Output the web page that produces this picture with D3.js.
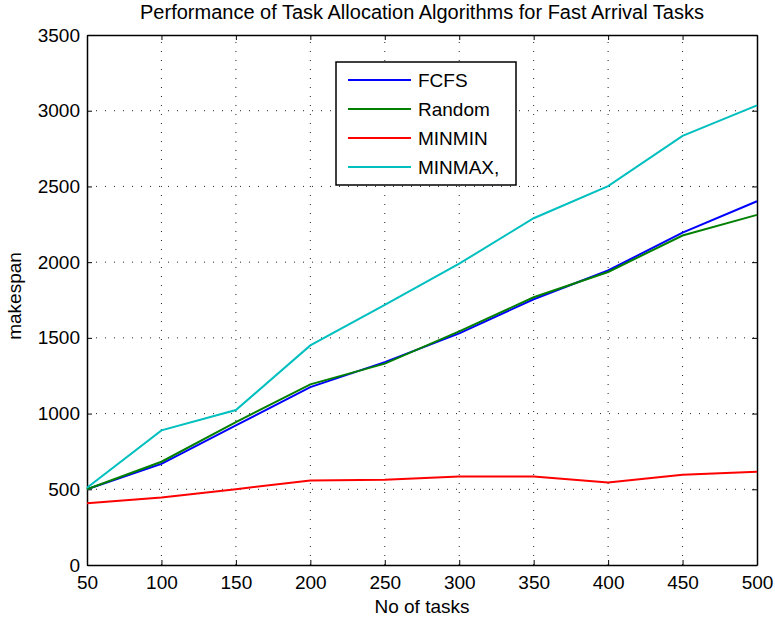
<!DOCTYPE html>
<html lang="en">
<head>
<meta charset="UTF-8">
<title>Performance of Task Allocation Algorithms</title>
<script src="https://d3js.org/d3.v7.min.js"></script>
<style>
    body { margin: 0; background: #fff; }
    text { font-family: 'Liberation Sans', Arial, sans-serif; fill: #000; }
</style>
</head>
<body>
<svg id="chart" width="775" height="617"></svg>
<script>
    // Data
    const tasks = [50, 100, 150, 200, 250, 300, 350, 400, 450, 500];
    const fcfs   = [500, 668, 922, 1175, 1340, 1530, 1755, 1945, 2195, 2402];
    const random = [500, 682, 944, 1193, 1330, 1543, 1768, 1935, 2176, 2312];
    const minmin = [408, 446, 501, 558, 563, 585, 585, 545, 596, 616];
    const minmax = [510, 889, 1023, 1450, 1718, 1990, 2290, 2502, 2834, 3035];
    const seriesNames = ["FCFS", "Random", "MINMIN", "MINMAX,"];
    const seriesColors = ["#0000ff", "#008000", "#ff0000", "#00bfbf"];
    const yTicks = [0, 500, 1000, 1500, 2000, 2500, 3000, 3500];

    const width = 775, height = 617;
    const margin = { left: 87, right: 18, top: 35, bottom: 52 };
    const svg = d3.select("#chart");

    svg.append("rect").attr("width", width).attr("height", height).attr("fill", "white");

    const x = d3.scaleLinear().domain([50, 500]).range([margin.left, width - margin.right]);
    const y = d3.scaleLinear().domain([0, 3500]).range([height - margin.bottom, margin.top]);

    const x0 = x.range()[0], x1 = x.range()[1], y0 = y.range()[0], y1 = y.range()[1];

    // grid lines (dotted)
    const grid = svg.append("g");
    tasks.slice(1, -1).forEach(t => {
        grid.append("line")
            .attr("x1", x(t)).attr("x2", x(t)).attr("y1", y0).attr("y2", y1)
            .attr("stroke", "#222").attr("stroke-width", 1).attr("stroke-dasharray", "1,8");
    });
    yTicks.slice(1, -1).forEach(v => {
        grid.append("line")
            .attr("x1", x0).attr("x2", x1).attr("y1", y(v)).attr("y2", y(v))
            .attr("stroke", "#222").attr("stroke-width", 1).attr("stroke-dasharray", "1,8");
    });

    // axes, ticks pointing inward
    const fmt = d3.format("d");
    const xAxis = svg.append("g").attr("transform", `translate(0,${y0})`)
        .call(d3.axisBottom(x).tickValues(tasks).tickFormat(fmt).tickSizeInner(-5).tickSizeOuter(0).tickPadding(10));
    const xTop = svg.append("g").attr("transform", `translate(0,${y1})`)
        .call(d3.axisTop(x).tickValues(tasks).tickSizeInner(-5).tickSizeOuter(0).tickFormat(""));
    const yAxis = svg.append("g").attr("transform", `translate(${x0},0)`)
        .call(d3.axisLeft(y).tickValues(yTicks).tickFormat(fmt).tickSizeInner(-5).tickSizeOuter(0).tickPadding(7));
    const yRight = svg.append("g").attr("transform", `translate(${x1},0)`)
        .call(d3.axisRight(y).tickValues(yTicks).tickSizeInner(-5).tickSizeOuter(0).tickFormat(""));

    [xAxis, xTop, yAxis, yRight].forEach(g => {
        g.selectAll("path").attr("stroke", "#000").attr("stroke-width", 1.5);
        g.selectAll("line").attr("stroke", "#000");
        g.selectAll("text").style("font-size", "19px").attr("fill", "#000")
            .style("font-family", "'Liberation Sans', Arial, sans-serif");
    });
    xAxis.selectAll("text").attr("dy", "0.75em");

    // lines
    const allSeries = [fcfs, random, minmin, minmax];
    const line = d3.line().x((d, i) => x(tasks[i])).y(d => y(d));
    allSeries.forEach((s, i) => {
        svg.append("path").datum(s)
            .attr("d", line)
            .attr("fill", "none")
            .attr("stroke", seriesColors[i])
            .attr("stroke-width", 2);
    });

    // legend
    const legend = svg.append("g").attr("transform", "translate(336,62)");
    legend.append("rect").attr("width", 180).attr("height", 123)
        .attr("fill", "white").attr("stroke", "#000").attr("stroke-width", 1.5);
    seriesNames.forEach((name, i) => {
        const ly = 18 + i * 29;
        legend.append("line").attr("x1", 12).attr("x2", 75).attr("y1", ly).attr("y2", ly)
            .attr("stroke", seriesColors[i]).attr("stroke-width", 2);
        legend.append("text").attr("x", 82).attr("y", ly + 7)
            .style("font-size", "19px").text(name);
    });

    // title and axis labels
    svg.append("text").attr("x", (x0 + x1) / 2).attr("y", 19)
        .attr("text-anchor", "middle").style("font-size", "20px")
        .text("Performance of Task Allocation Algorithms for Fast Arrival Tasks");
    svg.append("text").attr("x", (x0 + x1) / 2).attr("y", 613)
        .attr("text-anchor", "middle").style("font-size", "19px").text("No of tasks");
    svg.append("text").attr("transform", `translate(21,${(y0 + y1) / 2 - 4}) rotate(-90)`)
        .attr("text-anchor", "middle").style("font-size", "19px").text("makespan");
</script>
</body>
</html>
